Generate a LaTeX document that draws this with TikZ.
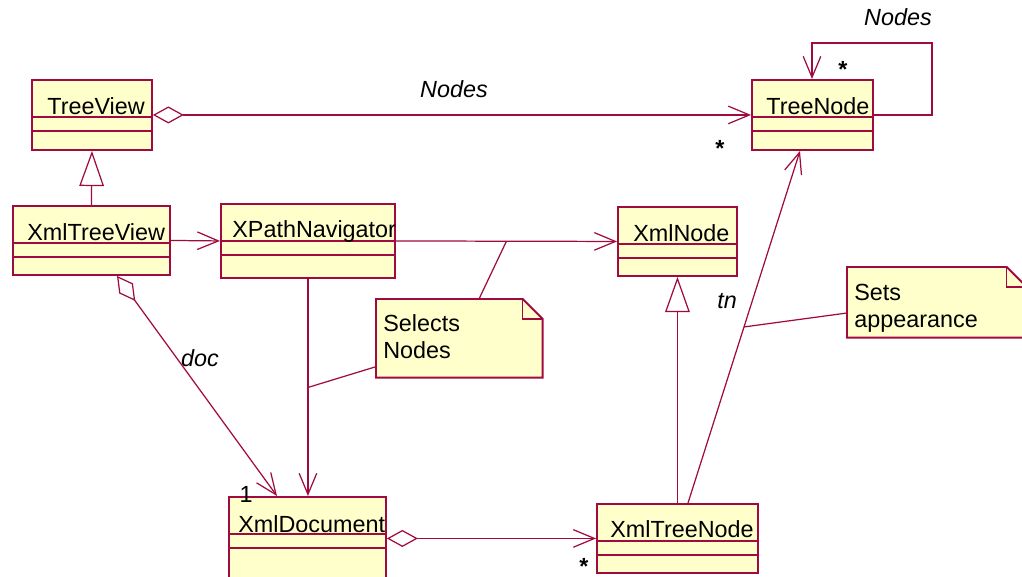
\documentclass[tikz,border=0pt]{standalone}
\usepackage{fontspec}
\setmainfont{Liberation Sans}
\usetikzlibrary{arrows.meta,calc,positioning}
\definecolor{UmlRed}{RGB}{160,10,65}
\definecolor{UmlYellow}{RGB}{255,255,204}
\newcommand{\umlfont}{\fontsize{13.3}{15.4}\selectfont}

\begin{document}
\begin{tikzpicture}[x=0.02cm,y=-0.02cm,
    umlclass/.style={draw=UmlRed,fill=UmlYellow,line width=1.1pt,anchor=north west,inner sep=0pt},
    classname/.style={anchor=base west,inner sep=0pt,font=\umlfont},
    notebox/.style={anchor=north west,inner sep=0pt},
    notetext/.style={anchor=base west,inner sep=0pt,align=left,font=\umlfont},
    rel/.style={draw=UmlRed,line width=0.7pt},
    nav/.style={rel,-{Straight Barb[length=12pt,width=10pt]}},
    agg/.style={rel,{Diamond[open,length=17.6pt,width=9.7pt]}-{Straight Barb[length=12pt,width=10pt]}},
    gen/.style={rel,-{Triangle[open,length=20pt,width=14pt]}},
    role/.style={font=\umlfont\itshape,inner sep=0pt},
    mult/.style={font=\umlfont\bfseries,inner sep=0pt}]
  \clip (0,0) rectangle (1022,577);

  \node[umlclass,minimum width=2.40cm,minimum height=1.40cm] (treeview) at (31,79) {};
  \node[umlclass,minimum width=2.42cm,minimum height=1.40cm] (treenode) at (751,79) {};
  \node[umlclass,minimum width=3.14cm,minimum height=1.38cm] (xmltreeview) at (12,205) {};
  \node[umlclass,minimum width=3.48cm,minimum height=1.48cm] (xpathnav) at (220,203) {};
  \node[umlclass,minimum width=2.38cm,minimum height=1.38cm] (xmlnode) at (617,206) {};
  \node[umlclass,minimum width=3.14cm,minimum height=2.40cm] (xmldoc) at (228,496) {};
  \node[umlclass,minimum width=3.22cm,minimum height=1.38cm] (xmltreenode) at (596,503) {};
  \foreach \c in {treeview,treenode,xmltreeview,xpathnav,xmlnode,xmldoc,xmltreenode} {
    \draw[rel] ($(\c.north west)+(0,38)$) -- ($(\c.north east)+(0,38)$);
    \draw[rel] ($(\c.north west)+(0,52)$) -- ($(\c.north east)+(0,52)$);
  }
  \node[classname] (treeviewname) at ($(treeview.north west)+(16,36)$) {TreeView};
  \node[classname] (treenodename) at ($(treenode.north west)+(15,36)$) {TreeNode};
  \node[classname] (xmltreeviewname) at ($(xmltreeview.north west)+(15,36)$) {XmlTreeView};
  \node[classname] (xpathnavname) at ($(xpathnav.north west)+(12,35)$) {XPathNavigator};
  \node[classname] (xmlnodename) at ($(xmlnode.north west)+(16,36)$) {XmlNode};
  \node[classname] (xmldocname) at ($(xmldoc.north west)+(10,37)$) {XmlDocument};
  \node[classname] (xmltreenodename) at ($(xmltreenode.north west)+(14,35)$) {XmlTreeNode};

  \node[notebox,minimum width=3.32cm,minimum height=1.56cm] (selnote) at (376,299) {};
  \node[notebox,minimum width=3.58cm,minimum height=1.40cm] (setnote) at (847,267) {};
  \foreach \n in {selnote,setnote} {
    \draw[rel,line width=1.1pt,fill=UmlYellow] (\n.north west) -- ($(\n.north east)+(-20,0)$)
      -- ($(\n.north east)+(0,20)$) -- (\n.south east) -- (\n.south west) -- cycle;
    \draw[rel] ($(\n.north east)+(-20,0)$) -- ($(\n.north east)+(-20,20)$) -- ($(\n.north east)+(0,20)$);
  }
  \node[notetext] (seltext) at ($(selnote.north west)+(7,60)$) {Selects\\Nodes};
  \node[notetext] (settext) at ($(setnote.north west)+(7,61)$) {Sets\\appearance};

  \draw[agg] (treeview.east) -- (treenode.west);
  \draw[nav] (treenode.east) -- ++(58,0) -- ++(0,-72) -| ($(treenode.north west)+(61,0)$);
  \draw[gen] (xmltreeview.north) -- (treeview.south);
  \draw[nav] (xmltreeview.east) -- (xpathnav.west);
  \draw[nav] (xpathnav.east) -- (xmlnode.west);
  \draw[nav] (xpathnav.south) -- (xpathnav.south |- xmldoc.north);
  \draw[agg] ($(xmltreeview.south west)+(105,0)$) -- ($(xmldoc.north west)+(49,0)$);
  \draw[agg] (xmldoc.east |- xmltreenode.west) -- (xmltreenode.west);
  \draw[gen] (xmltreenode.north -| xmlnode.south) -- (xmlnode.south);
  \coordinate (tnfrom) at ($(xmltreenode.north west)+(92,0)$);
  \coordinate (tnto) at ($(treenode.south west)+(49,0)$);
  \draw[nav] (tnfrom) -- (tnto);

  \coordinate (selA) at ($(xpathnav.east)!0.5!(xmlnode.west)$);
  \coordinate (selB) at ($(xpathnav.south)!0.5!(xpathnav.south |- xmldoc.north)$);
  \coordinate (setA) at ($(tnfrom)!0.5!(tnto)$);
  \draw[rel] ($(selnote.north west)+(103,0)$) -- (selA);
  \draw[rel] ($(selnote.south west)+(0,-11)$) -- (selB);
  \draw[rel] ($(setnote.north west)+(0,46)$) -- (setA);

  \node[role] (nodeslabel) at (454,89) {Nodes};
  \node[role] (selflabel) at (898,17) {Nodes};
  \node[role] (doclabel) at (200,358) {doc};
  \node[role] (tnlabel) at (727,301) {tn};
  \node[mult] (treenodemult) at (720,148) {*};
  \node[mult] (selfmult) at (843,69) {*};
  \node[mult] (xmltreenodemult) at (584,566) {*};
  \node[inner sep=0pt,font=\umlfont] (xmldocmult) at (246,494) {1};
\end{tikzpicture}
\end{document}
